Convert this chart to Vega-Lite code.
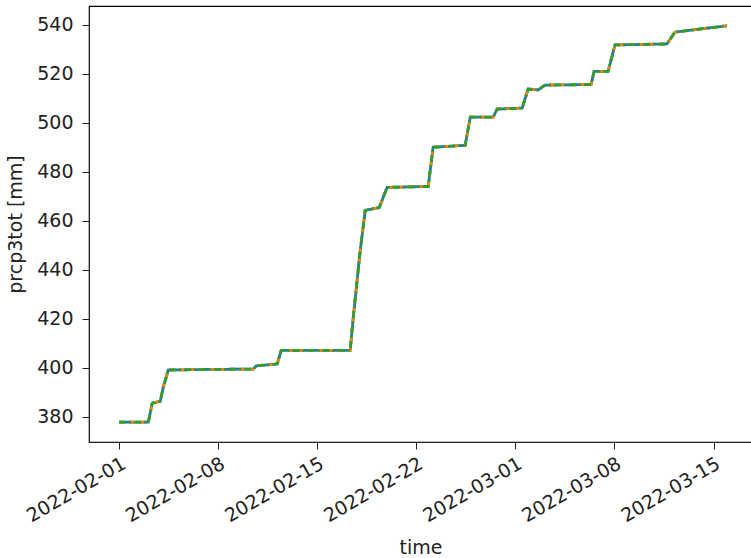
{
  "$schema": "https://vega.github.io/schema/vega-lite/v6.json",
  "autosize": "none",
  "width": 663,
  "height": 436,
  "padding": {"left": 89, "top": 6, "right": 0, "bottom": 116},
  "background": "white",
  "config": {
    "view": {"stroke": "#000", "strokeWidth": 1.2},
    "font": "DejaVu Sans",
    "axis": {
      "labelFont": "DejaVu Sans",
      "titleFont": "DejaVu Sans",
      "labelFontSize": 19,
      "titleFontSize": 19,
      "titleFontWeight": "normal",
      "labelColor": "#222",
      "titleColor": "#222",
      "tickColor": "#222",
      "domainColor": "#222",
      "tickSize": 7,
      "labelOverlap": false,
      "labelFlush": false,
      "grid": false
    }
  },
  "data": {
    "values": [
      {"time": "2022-02-01T00:00", "s1": 377.7, "s2": 377.7, "s3": 377.7},
      {"time": "2022-02-03T01:30", "s1": 377.7, "s2": 377.7, "s3": 377.7},
      {"time": "2022-02-03T08:10", "s1": 385.5, "s2": 385.5, "s3": 385.5},
      {"time": "2022-02-03T21:50", "s1": 386.3, "s2": 386.3, "s3": 386.3},
      {"time": "2022-02-04T02:50", "s1": 392.0, "s2": 392.0, "s3": 392.0},
      {"time": "2022-02-04T11:20", "s1": 399.0, "s2": 399.0, "s3": 399.0},
      {"time": "2022-02-06T17:30", "s1": 399.2, "s2": 399.2, "s3": 399.2},
      {"time": "2022-02-10T11:30", "s1": 399.4, "s2": 399.4, "s3": 399.4},
      {"time": "2022-02-10T16:30", "s1": 400.7, "s2": 400.7, "s3": 400.7},
      {"time": "2022-02-12T04:10", "s1": 401.5, "s2": 401.5, "s3": 401.5},
      {"time": "2022-02-12T10:50", "s1": 407.0, "s2": 407.0, "s3": 407.0},
      {"time": "2022-02-15T05:00", "s1": 407.0, "s2": 407.0, "s3": 407.0},
      {"time": "2022-02-17T07:50", "s1": 407.0, "s2": 407.0, "s3": 407.0},
      {"time": "2022-02-17T13:00", "s1": 420.3, "s2": 420.3, "s3": 420.3},
      {"time": "2022-02-18T00:50", "s1": 447.8, "s2": 447.8, "s3": 447.8},
      {"time": "2022-02-18T09:20", "s1": 464.2, "s2": 464.2, "s3": 464.2},
      {"time": "2022-02-19T09:10", "s1": 465.4, "s2": 465.4, "s3": 465.4},
      {"time": "2022-02-19T22:30", "s1": 473.6, "s2": 473.6, "s3": 473.6},
      {"time": "2022-02-22T20:10", "s1": 474.0, "s2": 474.0, "s3": 474.0},
      {"time": "2022-02-23T04:30", "s1": 490.0, "s2": 490.0, "s3": 490.0},
      {"time": "2022-02-25T10:50", "s1": 490.8, "s2": 490.8, "s3": 490.8},
      {"time": "2022-02-25T19:30", "s1": 502.3, "s2": 502.3, "s3": 502.3},
      {"time": "2022-02-27T10:20", "s1": 502.3, "s2": 502.3, "s3": 502.3},
      {"time": "2022-02-27T17:00", "s1": 505.6, "s2": 505.6, "s3": 505.6},
      {"time": "2022-03-01T11:30", "s1": 506.0, "s2": 506.0, "s3": 506.0},
      {"time": "2022-03-01T21:40", "s1": 513.8, "s2": 513.8, "s3": 513.8},
      {"time": "2022-03-02T14:40", "s1": 513.4, "s2": 513.4, "s3": 513.4},
      {"time": "2022-03-03T02:20", "s1": 515.4, "s2": 515.4, "s3": 515.4},
      {"time": "2022-03-06T08:20", "s1": 515.6, "s2": 515.6, "s3": 515.6},
      {"time": "2022-03-06T13:30", "s1": 521.0, "s2": 521.0, "s3": 521.0},
      {"time": "2022-03-07T13:10", "s1": 521.0, "s2": 521.0, "s3": 521.0},
      {"time": "2022-03-08T01:00", "s1": 531.8, "s2": 531.8, "s3": 531.8},
      {"time": "2022-03-11T17:00", "s1": 532.2, "s2": 532.2, "s3": 532.2},
      {"time": "2022-03-12T06:30", "s1": 537.0, "s2": 537.0, "s3": 537.0},
      {"time": "2022-03-14T01:00", "s1": 538.3, "s2": 538.3, "s3": 538.3},
      {"time": "2022-03-15T22:50", "s1": 539.6, "s2": 539.6, "s3": 539.6}
    ]
  },
  "transform": [{"fold": ["s1", "s2", "s3"], "as": ["series", "value"]}],
  "mark": {"type": "line", "strokeWidth": 2.8, "clip": true},
  "encoding": {
    "x": {
      "field": "time",
      "type": "temporal",
      "title": "time",
      "scale": {
        "domain": [
          {"year": 2022, "month": 1, "date": 29, "hours": 20, "minutes": 53},
          {"year": 2022, "month": 3, "date": 17, "hours": 17, "minutes": 17}
        ]
      },
      "axis": {
        "values": [
          {"year": 2022, "month": 2, "date": 1},
          {"year": 2022, "month": 2, "date": 8},
          {"year": 2022, "month": 2, "date": 15},
          {"year": 2022, "month": 2, "date": 22},
          {"year": 2022, "month": 3, "date": 1},
          {"year": 2022, "month": 3, "date": 8},
          {"year": 2022, "month": 3, "date": 15}
        ],
        "format": "%Y-%m-%d",
        "labelAngle": -30,
        "labelAlign": "right",
        "labelBaseline": "top",
        "labelPadding": 5,
        "titlePadding": 13
      }
    },
    "y": {
      "field": "value",
      "type": "quantitative",
      "title": "prcp3tot [mm]",
      "scale": {"domain": [369.6, 547.7], "zero": false, "nice": false},
      "axis": {
        "values": [380, 400, 420, 440, 460, 480, 500, 520, 540],
        "labelPadding": 9,
        "titlePadding": 11
      }
    },
    "color": {
      "field": "series",
      "type": "nominal",
      "scale": {"domain": ["s1", "s2", "s3"], "range": ["#1f77b4", "#ff7f0e", "#2ca02c"]},
      "legend": null
    },
    "strokeDash": {
      "field": "series",
      "type": "nominal",
      "scale": {"domain": ["s1", "s2", "s3"], "range": [[1, 0], [5, 5], [7, 3, 2, 3]]},
      "legend": null
    }
  }
}
